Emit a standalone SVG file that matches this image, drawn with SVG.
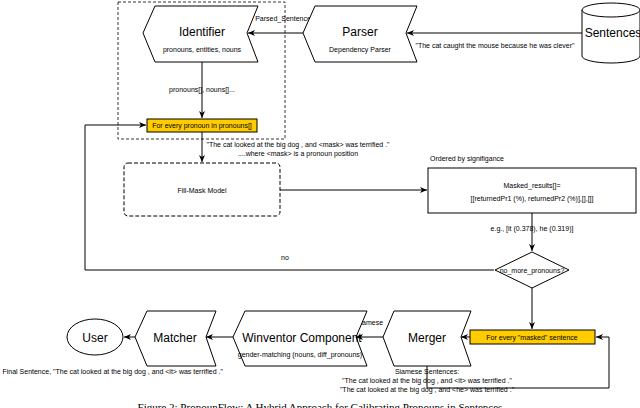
<svg xmlns="http://www.w3.org/2000/svg" width="640" height="408" viewBox="0 0 640 408">
<defs>
<marker id="ah" markerWidth="8" markerHeight="8" refX="7" refY="4" orient="auto" markerUnits="userSpaceOnUse"><path d="M0,1 L7,4 L0,7 L2,4 Z" fill="#000"/></marker>
<style>
text{font-family:"Liberation Sans",Arial,sans-serif;fill:#000}
.sh{fill:#fff;stroke:#000;stroke-width:1}
.ln{fill:none;stroke:#000;stroke-width:1}
.ar{fill:none;stroke:#000;stroke-width:1;marker-end:url(#ah)}
.yl{fill:#ffcc00;stroke:#000;stroke-width:1}
.big{font-size:12px;text-anchor:middle}
.sm{font-size:7px;text-anchor:middle}
</style>
</defs>
<rect width="640" height="408" fill="#fff"/>
<g id="connectors">
<path class="ar" d="M582,33 L407,33"/>
<path class="ar" d="M303,33 L248,33"/>
<path class="ar" d="M202,62 L202,118"/>
<path class="ar" d="M202,132 L202,162"/>
<path class="ar" d="M280,190 L427,190"/>
<path class="ar" d="M532,213 L532,251"/>
<path class="ar" d="M532,288 L532,329"/>
<path class="ar" d="M494,270 L85,270 L85,125 L146,125"/>
<path class="ar" d="M427,366 L427,388 L609,388 L609,337 L596,337"/>
<path class="ar" d="M470,337 L461,337"/>
<path class="ar" d="M383,337 L356,337"/>
<path class="ar" d="M233,337 L206,337"/>
<path class="ar" d="M135,337 L124,337"/>
<text x="283" y="21" class="sm" font-size="8">Parsed_Sentence</text>
<text x="495" y="48" class="sm">"The cat caught the mouse because he was clever"</text>
<text x="202" y="92" class="sm">pronouns[], nouns[]...</text>
<text x="298" y="147" class="sm">"The cat looked at the big dog , and &lt;mask&gt; was terrified ."</text>
<text x="298" y="156" class="sm">....where &lt;mask&gt; is a pronoun position</text>
<text x="430" y="161" font-size="7">Ordered by signifigance</text>
<text x="532" y="231" class="sm">e.g., [it (0.378), he (0.319)]</text>
<text x="285" y="260" class="sm">no</text>
<text x="370" y="325" class="sm">siamese</text>
</g>
<g id="group"><rect x="118" y="2" width="167" height="137" fill="none" stroke="#000" stroke-width="0.8" stroke-dasharray="3,2"/></g>
<g id="identifier"><path class="sh" d="M155,6 L258,6 L247,33 L258,62 L155,62 L143,33 Z"/><text x="202" y="36" class="big" font-size="13">Identifier</text><text x="202" y="52" class="sm">pronouns, entities, nouns</text></g>
<g id="parser"><path class="sh" d="M315,6 L417,6 L406,33 L417,62 L315,62 L303,33 Z"/><text x="360" y="36" class="big" font-size="13">Parser</text><text x="360" y="52" class="sm">Dependency Parser</text></g>
<g id="sentences"><path class="sh" d="M582,10 L582,56 A29,7 0 0 0 640,56 L640,10"/><ellipse class="sh" cx="611" cy="10" rx="29" ry="7"/><text x="613" y="37" class="big" font-size="13">Sentences</text></g>
<g id="loop1"><rect class="yl" x="147" y="119" width="110" height="13"/><text x="202" y="128" class="sm">For every pronoun in pronouns[]</text></g>
<g id="fillmask"><rect x="124" y="163" width="156" height="53" rx="4" fill="#fff" stroke="#000" stroke-dasharray="4,2"/><text x="202" y="193" class="sm" font-size="8">Fill-Mask Model</text></g>
<g id="masked"><rect class="sh" x="428" y="168" width="208" height="45"/><text x="532" y="188" class="sm" font-size="8">Masked_results[]=</text><text x="532" y="201" class="sm" font-size="8">[[returnedPr1 (%), returnedPr2 (%)],[],[]]</text></g>
<g id="decision"><path class="sh" d="M532,252 L569,270 L532,288 L495,270 Z"/><text x="532" y="273" class="sm" font-size="7.5">no_more_pronouns?</text></g>
<g id="loop2"><rect class="yl" x="470" y="330" width="125" height="14"/><text x="532" y="340" class="sm">For every "masked" sentence</text></g>
<g id="merger"><path class="sh" d="M394,311 L471,311 L461,337 L471,366 L394,366 L383,337 Z"/><text x="427" y="342" class="big">Merger</text><text x="427" y="374" class="sm">Siamese Sentences:</text><text x="427" y="383" class="sm">"The cat looked at the big dog , and &lt;it&gt; was terrified ."</text><text x="427" y="392" class="sm">"The cat looked at the big dog , and &lt;he&gt; was terrified ."</text></g>
<g id="winventor"><path class="sh" d="M245,311 L367,311 L356,337 L367,366 L245,366 L233,337 Z"/><text x="302" y="342" class="big">Winventor Component</text><text x="300" y="357" class="sm" font-size="6">gender-matching (nouns, diff_pronouns)</text></g>
<g id="matcher"><path class="sh" d="M147,311 L216,311 L206,337 L216,366 L147,366 L135,337 Z"/><text x="175" y="342" class="big">Matcher</text></g>
<g id="user"><ellipse class="sh" cx="95" cy="337" rx="28" ry="18"/><text x="95" y="342" class="big">User</text></g>
<text x="223" y="374" font-size="7" text-anchor="end">Final Sentence, "The cat looked at the big dog , and &lt;it&gt; was terrified ."</text>
<text x="320" y="411" font-family="Liberation Serif" font-size="11" text-anchor="middle" style="font-family:'Liberation Serif',serif">Figure 2: PronounFlow: A Hybrid Approach for Calibrating Pronouns in Sentences</text>
</svg>
